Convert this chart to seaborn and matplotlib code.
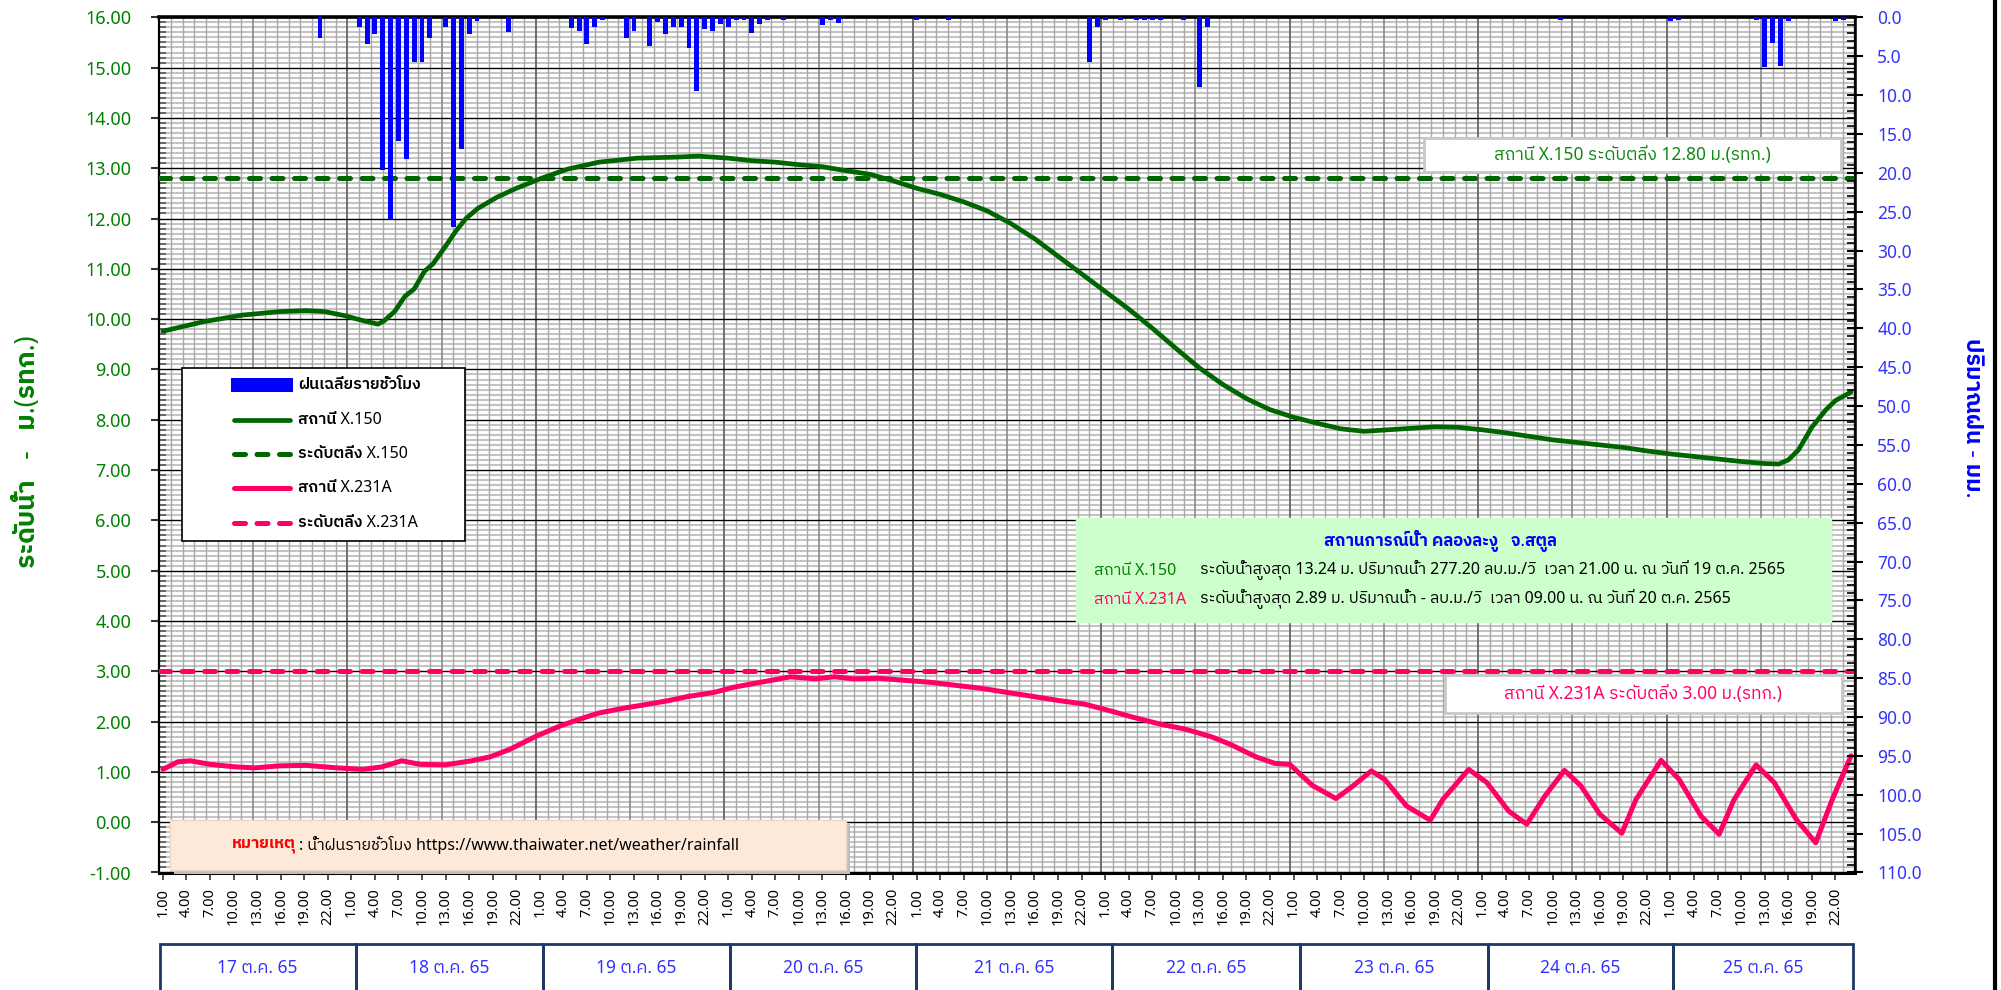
import numpy as np
import matplotlib
matplotlib.use("Agg")
import matplotlib.pyplot as plt
import seaborn as sns
from matplotlib.patches import Rectangle
from matplotlib.lines import Line2D
from matplotlib.ticker import MultipleLocator
from matplotlib import font_manager as fm
from matplotlib.ft2font import FT2Font

# ---------------- data ----------------
hour_labels = ["1.00", "4.00", "7.00", "10.00", "13.00", "16.00", "19.00", "22.00"]
day_labels = ["17 ต.ค. 65", "18 ต.ค. 65", "19 ต.ค. 65", "20 ต.ค. 65", "21 ต.ค. 65",
              "22 ต.ค. 65", "23 ต.ค. 65", "24 ต.ค. 65", "25 ต.ค. 65"]

# station X.150 water level (hour position from 01:00 on 17 Oct, m MSL)
x150_t = [0.5, 5.7, 10.6, 15.4, 18.7, 21.1, 23.6, 26.0, 27.9, 28.7, 30.0, 31.3, 32.5,
          33.8, 34.9, 36.5, 37.8, 39.1, 40.6, 43.0, 45.5, 48.7, 52.0, 56.0, 60.9,
          65.8, 68.7, 72.5, 75.5, 78.5, 81.5, 84.5, 87.5, 90.5, 93.5, 96.5, 99.5,
          102.5, 105.5, 108.5, 111.5, 114.5, 117.5, 120.5, 123.5, 126.5, 129.5,
          132.5, 135.5, 138.5, 141.5, 144.5, 147.5, 150.5, 153.5, 156.5, 159.5,
          162.5, 165.5, 168.5, 171.5, 174.5, 177.5, 180.5, 183.5, 186.5, 189.5,
          192.5, 195.5, 198.5, 201.5, 204.5, 206.3, 207.5, 208.8, 210.5, 212.3,
          213.5, 215.5]
x150_level = [9.76, 9.95, 10.08, 10.15, 10.17, 10.15, 10.07, 9.97, 9.90, 9.97, 10.15,
              10.45, 10.60, 10.95, 11.10, 11.45, 11.75, 12.00, 12.20, 12.42, 12.60,
              12.80, 12.98, 13.12, 13.20, 13.22, 13.24, 13.20, 13.15, 13.12, 13.07,
              13.03, 12.95, 12.88, 12.75, 12.60, 12.48, 12.33, 12.15, 11.90, 11.60,
              11.25, 10.90, 10.55, 10.20, 9.82, 9.42, 9.03, 8.70, 8.42, 8.20, 8.05,
              7.93, 7.82, 7.77, 7.80, 7.83, 7.86, 7.85, 7.80, 7.74, 7.67, 7.60, 7.55,
              7.50, 7.45, 7.38, 7.32, 7.27, 7.22, 7.17, 7.13, 7.12, 7.20, 7.40, 7.85,
              8.20, 8.38, 8.55]

# station X.231A water level
x231_t = [0.5, 2.4, 4.0, 6.5, 9.7, 12.2, 15.4, 18.7, 22.7, 26.0, 28.4, 30.9, 33.3,
          36.5, 39.8, 42.2, 44.7, 47.9, 51.2, 53.6, 56.0, 59.3, 61.7, 65.0, 67.4,
          70.7, 73.1, 75.5, 78.0, 80.4, 83.6, 86.0, 88.5, 91.8, 95.0, 98.3, 101.5,
          104.8, 108.0, 111.3, 114.5, 117.8, 121.0, 124.2, 127.5, 130.7, 134.0,
          136.4, 139.7, 142.1, 144.0, 146.9, 149.9, 151.9, 154.4, 156.1, 158.9,
          161.9, 163.5, 166.8, 169.1, 171.9, 174.2, 176.5, 179.0, 181.1, 183.5,
          186.3, 188.1, 191.3, 193.6, 196.4, 198.7, 200.6, 203.4, 205.7, 208.5,
          211.0, 213.1, 215.5]
x231_level = [1.05, 1.20, 1.22, 1.15, 1.10, 1.08, 1.12, 1.13, 1.08, 1.05, 1.10, 1.22,
              1.15, 1.14, 1.22, 1.30, 1.45, 1.70, 1.92, 2.05, 2.17, 2.27, 2.33, 2.42,
              2.50, 2.58, 2.68, 2.75, 2.82, 2.89, 2.85, 2.89, 2.85, 2.86, 2.82, 2.78,
              2.72, 2.66, 2.58, 2.50, 2.42, 2.35, 2.22, 2.08, 1.95, 1.85, 1.70, 1.55,
              1.30, 1.17, 1.15, 0.73, 0.47, 0.70, 1.02, 0.85, 0.32, 0.04, 0.45, 1.05,
              0.79, 0.22, -0.04, 0.52, 1.03, 0.72, 0.16, -0.22, 0.45, 1.23, 0.85, 0.12,
              -0.24, 0.45, 1.14, 0.79, 0.06, -0.41, 0.45, 1.32]

# hourly rainfall (hour index, mm)
rain_idx = [20, 25, 26, 27, 28, 29, 30, 31, 32, 33, 34, 36, 37, 38, 39, 40, 44, 52, 53, 54,
            55, 56, 59, 60, 62, 63, 64, 65, 66, 67, 68, 69, 70, 71, 72, 73, 74, 75, 76, 77,
            79, 84, 85, 86, 96, 100, 118, 119, 120, 122, 124, 125, 126, 127, 130, 132, 133,
            178, 192, 193, 203, 204, 205, 206, 207, 213, 214]
rain_mm = [2.6, 1.3, 3.4, 2.2, 19.7, 25.9, 15.9, 18.2, 5.8, 5.8, 2.6, 1.2, 27.0, 17.0, 2.2,
           0.5, 1.9, 1.4, 1.7, 3.4, 1.3, 0.4, 2.6, 1.7, 3.7, 0.6, 2.2, 1.3, 1.3, 4.0, 9.5,
           1.5, 1.8, 0.9, 1.3, 0.4, 0.4, 2.0, 0.9, 0.3, 0.3, 0.95, 0.3, 0.7, 0.3, 0.3, 5.8,
           1.2, 0.3, 0.3, 0.3, 0.3, 0.3, 0.3, 0.3, 9.0, 1.3, 0.3, 0.5, 0.3, 0.3, 6.4, 3.3,
           6.3, 0.5, 0.5, 0.3]

bank_x150 = 12.80
bank_x231 = 3.00

# ---------------- fonts ----------------
def find_thai_font():
    cands = sorted(fm.fontManager.ttflist, key=lambda f: (0 if "thai" in f.name.lower() else 1))
    for f in cands:
        try:
            cm = FT2Font(f.fname).get_charmap()
        except Exception:
            continue
        if 0x0E2A in cm and 0x0E19 in cm and 0x0E49 in cm:
            return f.name
    return None

sns.set_theme(style="white")
thai = find_thai_font()
FAM = ["Noto Sans"] + ([thai] if thai else []) + ["DejaVu Sans"]
plt.rcParams["font.family"] = FAM
plt.rcParams["axes.unicode_minus"] = False

W, H = 2001, 990
fig = plt.figure(figsize=(W / 100, H / 100), dpi=100)
fig.patch.set_facecolor("white")

def fx(px):
    return px / W

def fy(py):
    return 1 - py / H

L, R, T, B = 159, 1855, 17.3, 872.5
ax = fig.add_axes([fx(L), fy(B), fx(R) - fx(L), fy(T) - fy(B)])
ax.set_facecolor("white")
ax.set_xlim(0, 216)
ax.set_ylim(-1, 16)

# grid
for v in np.arange(-1, 16.001, 0.1):
    if abs(v - round(v)) > 1e-6:
        ax.axhline(v, color="#c4c4c4", lw=1.5, zorder=0.5)
for xv in np.arange(0, 216.01, 1.5):
    if abs(xv % 24) < 1e-6:
        c, w = "#6e6e6e", 1.4
    elif abs(xv % 12) < 1e-6:
        c, w = "#8a8a8a", 1.2
    else:
        c, w = "#a8a8a8", 1.0
    ax.axvline(xv, color=c, lw=w, zorder=0.6)
for v in range(-1, 17):
    ax.axhline(v, color="black", lw=1.0, zorder=0.7)

# threshold lines
dash_kw = dict(lw=3.6, dashes=(2.2, 2.3), dash_capstyle="round", zorder=3)
ax.axhline(bank_x150, color="#006400", **dash_kw)
ax.axhline(bank_x231, color="#ff0066", **dash_kw)

# water levels
sns.lineplot(x=x150_t, y=x150_level, ax=ax, color="#006400", lw=3.4, zorder=4,
             legend=False, solid_capstyle="round")
sns.lineplot(x=x231_t, y=x231_level, ax=ax, color="#ff0066", lw=3.6, zorder=4,
             legend=False, solid_capstyle="round")

# axis styling
ax.yaxis.set_minor_locator(MultipleLocator(0.1))
ax.set_yticks(np.arange(-1, 17, 1))
ax.set_yticklabels([f"{v:.2f}" for v in np.arange(-1, 17, 1)])
ax.tick_params(axis="y", which="major", direction="out", length=6, width=1.5,
               color="#333333", labelsize=13, labelcolor="#008000", pad=14, left=True)
ax.tick_params(axis="y", which="minor", direction="in", length=5, width=1.2,
               color="#555555", left=True)

xt = np.arange(0.5, 216, 3)
ax.set_xticks(xt)
ax.set_xticklabels(hour_labels * 9, rotation=90)
ax.tick_params(axis="x", which="major", direction="out", length=5, width=1.2,
               color="#333333", labelsize=10.5, labelcolor="black", pad=6, bottom=True)
ax.set_xlabel("")
ax.set_ylabel("")
for s in ax.spines.values():
    s.set_color("black")
    s.set_linewidth(1.6)
ax.spines["top"].set_linewidth(2.6)
ax.spines["bottom"].set_linewidth(2.2)

# rain on secondary axis
ax2 = ax.twinx()
ax2.bar(np.array(rain_idx) + 0.5, rain_mm, width=0.62, color="#0000ff",
        edgecolor="none", linewidth=0, zorder=5)
ax2.set_ylim(110, 0)
ax2.set_xlim(0, 216)
ax2.set_yticks(np.arange(0, 110.1, 5))
ax2.set_yticklabels([f"{v:.1f}" for v in np.arange(0, 110.1, 5)])
ax2.yaxis.set_minor_locator(MultipleLocator(1))
ax2.tick_params(axis="y", which="major", direction="inout", length=12, width=1.5,
                color="black", labelsize=12.5, labelcolor="#3333ff", pad=10, right=True)
ax2.tick_params(axis="y", which="minor", direction="in", length=6, width=1.2,
                color="black", right=True)
ax2.grid(False)
ax2.set_ylabel("")
for s in ax2.spines.values():
    s.set_visible(False)
ax2.spines["right"].set_visible(True)
ax2.spines["right"].set_color("black")
ax2.spines["right"].set_linewidth(1.8)

# axis titles
fig.text(fx(28), fy(452), "ระดับน้ำ   -   ม.(รทก.)", rotation=90, ha="center", va="center",
         fontsize=19, fontweight="bold", color="#008000")
fig.text(fx(1972), fy(418), "ปริมาณฝน - มม.", rotation=270, ha="center", va="center",
         fontsize=16.5, fontweight="bold", color="#0000ff")

# right border of the image
fig.add_artist(Line2D([fx(1995), fx(1995)], [0, 1], color="black", lw=3))

def frect(x0, y0, x1, y1, **kw):
    r = Rectangle((fx(x0), fy(y1)), fx(x1) - fx(x0), fy(y0) - fy(y1),
                  transform=fig.transFigure, **kw)
    fig.add_artist(r)
    return r

# threshold boxes
frect(1424, 138, 1841, 172, facecolor="white", edgecolor="#c8c8c8", lw=2, zorder=6)
fig.text(fx(1632), fy(155), "สถานี X.150 ระดับตลิ่ง 12.80 ม.(รทก.)", ha="center",
         va="center", fontsize=12.5, color="#118811", zorder=7)
frect(1445, 675, 1842, 713, facecolor="white", edgecolor="#c8c8c8", lw=2, zorder=6)
fig.text(fx(1643), fy(694), "สถานี X.231A ระดับตลิ่ง 3.00 ม.(รทก.)", ha="center",
         va="center", fontsize=12.5, color="#ff0066", zorder=7)

# info box
frect(1076, 518, 1831, 622, facecolor="#ccffcc", edgecolor="#ccffcc", lw=1, zorder=6)
fig.text(fx(1440), fy(541), "สถานการณ์น้ำ คลองละงู   จ.สตูล", ha="center", va="center",
         fontsize=12, fontweight="bold", color="#0000ff", zorder=7)
fig.text(fx(1094), fy(571), "สถานี X.150", ha="left", va="center", fontsize=11.5,
         color="#008000", zorder=7)
fig.text(fx(1200), fy(571), "ระดับน้ำสูงสุด 13.24 ม. ปริมาณน้ำ 277.20 ลบ.ม./วิ  เวลา 21.00 น. ณ วันที่ 19 ต.ค. 2565",
         ha="left", va="center", fontsize=11.5, color="black", zorder=7)
fig.text(fx(1094), fy(600), "สถานี X.231A", ha="left", va="center", fontsize=11.5,
         color="#ff0066", zorder=7)
fig.text(fx(1200), fy(600), "ระดับน้ำสูงสุด 2.89 ม. ปริมาณน้ำ - ลบ.ม./วิ  เวลา 09.00 น. ณ วันที่ 20 ต.ค. 2565",
         ha="left", va="center", fontsize=11.5, color="black", zorder=7)

# note box with shadow
frect(174, 824, 850, 874, facecolor="#bdbdbd", edgecolor="none", zorder=6)
frect(170, 820, 846, 870, facecolor="#fde9d9", edgecolor="#f0d8c8", lw=1, zorder=6.5)
fig.text(fx(232), fy(845), "หมายเหตุ", ha="left", va="center", fontsize=11.5,
         fontweight="bold", color="#ff0000", zorder=7)
fig.text(fx(299), fy(845), ": น้ำฝนรายชั่วโมง https://www.thaiwater.net/weather/rainfall",
         ha="left", va="center", fontsize=11.5, color="black", zorder=7)

# legend
frect(182, 368, 465, 541, facecolor="white", edgecolor="black", lw=1.2, zorder=6)
rows = [385, 420, 454, 488, 523]
leg_text = ["ฝนเฉลี่ยรายชั่วโมง", "สถานี X.150", "ระดับตลิ่ง X.150", "สถานี X.231A",
            "ระดับตลิ่ง X.231A"]
frect(231, rows[0] - 7, 293, rows[0] + 7, facecolor="#0000ff", edgecolor="none", zorder=7)
leg_styles = [None,
              dict(color="#006400", lw=3.4, solid_capstyle="round"),
              dict(color="#006400", lw=3.6, dashes=(2.2, 2.3), dash_capstyle="round"),
              dict(color="#ff0066", lw=3.6, solid_capstyle="round"),
              dict(color="#ff0066", lw=3.6, dashes=(2.2, 2.3), dash_capstyle="round")]
for r, txt, st in zip(rows, leg_text, leg_styles):
    if st is not None:
        fig.add_artist(Line2D([fx(234), fx(290)], [fy(r), fy(r)], zorder=7, **st))
    fig.text(fx(298), fy(r), txt, ha="left", va="center", fontsize=11.5,
             fontweight="semibold", color="black", zorder=7)

# day table under the axis
bounds = [159.5, 355.5, 542.5, 730.2, 916.4, 1111.8, 1300, 1487.5, 1673, 1853]
for i, lab in enumerate(day_labels):
    x0, x1 = bounds[i], bounds[i + 1]
    frect(x0, 944, x1, 1000, facecolor="none", edgecolor="#1f3864", lw=2, zorder=5)
    fig.text(fx((x0 + x1) / 2), fy(968), lab, ha="center", va="center", fontsize=12.5,
             color="#3333ff")

fig.savefig("out.png", dpi=100)
